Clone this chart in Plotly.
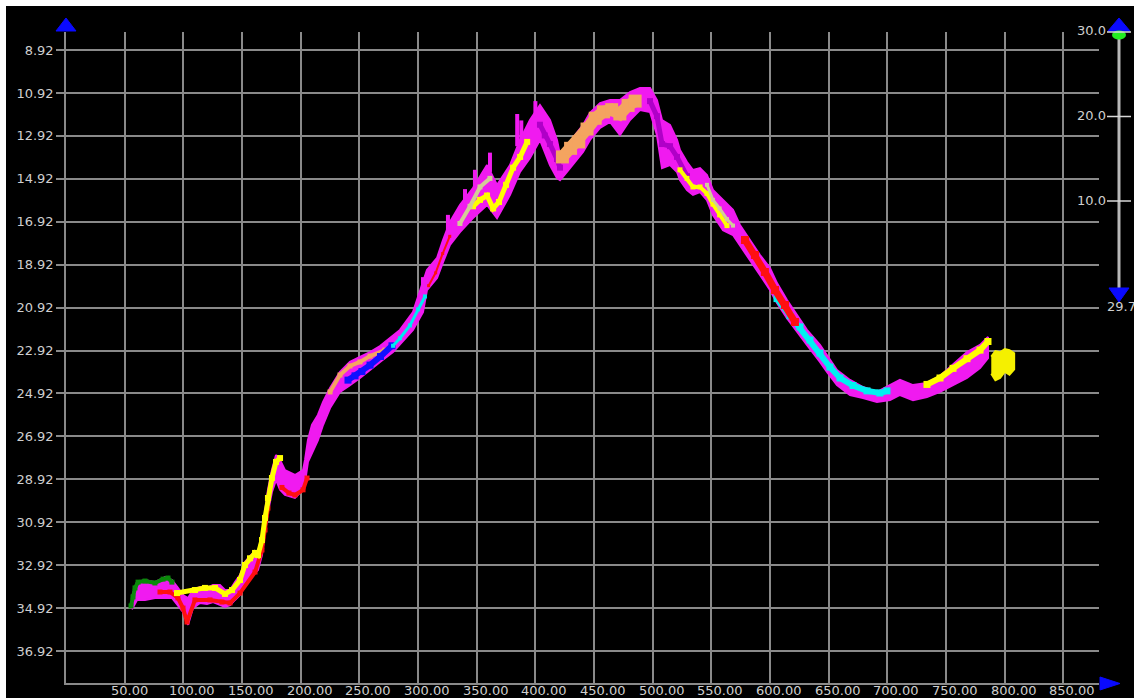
import plotly.graph_objects as go

# ---- well path envelope: offset along section (m), shallow / deep bound (m) ----
offset = [56.2, 60.5, 67.3, 75.8, 84.4, 90.3, 95.4, 99.7, 104.0, 108.2,
          114.2, 120.2, 125.3, 131.2, 135.5, 139.8, 144.0, 148.3, 152.5, 156.8,
          161.1, 163.6, 167.0, 169.6, 172.1, 175.5, 179.0, 182.4, 186.6, 195.1,
          202.0, 203.7, 206.2, 209.6, 214.7, 219.0, 225.0, 233.5, 242.0, 250.5,
          259.1, 267.6, 278.7, 284.6, 295.7, 304.2, 307.6, 316.2, 321.3, 327.2,
          335.7, 346.8, 358.8, 367.3, 378.4, 386.9, 395.4, 403.9, 412.4, 418.4,
          421.0, 426.9, 432.0, 440.6, 446.5, 455.1, 463.6, 472.1, 480.6, 489.1,
          497.7, 503.6, 507.9, 514.7, 520.7, 523.2, 529.2, 534.3, 540.3, 546.2,
          551.3, 559.9, 568.4, 574.3, 582.9, 591.4, 599.9, 605.9, 614.4, 622.9,
          631.4, 642.5, 648.5, 657.0, 668.1, 679.2, 691.1, 702.2, 710.7, 721.8,
          733.7, 744.8, 755.9, 767.8, 778.9, 785.7]
shallow = [34.40, 33.71, 33.61, 33.71, 33.48, 33.61, 33.98, 34.31, 34.45, 34.08,
           33.94, 33.98, 33.84, 33.84, 34.08, 34.08, 33.71, 33.38, 32.77, 32.49,
           32.31, 32.31, 31.51, 30.35, 29.41, 28.49, 27.79, 28.02, 28.49, 28.72,
           28.49, 28.02, 27.09, 26.39, 25.92, 25.32, 24.67, 23.92, 23.45, 23.22,
           22.99, 22.71, 22.20, 21.96, 21.13, 19.73, 19.17, 18.61, 17.77, 16.93,
           16.14, 15.35, 14.28, 15.21, 14.28, 13.11, 12.18, 11.48, 12.18, 13.11,
           13.81, 13.49, 13.02, 12.41, 11.85, 11.39, 11.25, 11.25, 10.88, 10.69,
           10.69, 11.25, 12.18, 12.41, 13.11, 13.58, 14.14, 14.51, 14.42, 14.74,
           15.44, 15.91, 16.37, 17.07, 17.77, 18.47, 19.08, 19.78, 20.57, 21.27,
           21.96, 22.66, 23.13, 23.83, 24.29, 24.62, 24.85, 24.53, 24.29, 24.53,
           24.43, 24.11, 23.59, 22.99, 22.66, 22.29]
deep = [34.98, 34.54, 34.54, 34.45, 34.45, 34.45, 34.78, 35.10, 35.70, 34.92,
        34.68, 34.73, 34.64, 34.78, 34.87, 34.78, 34.54, 34.31, 33.84, 33.52,
        33.29, 33.15, 32.45, 31.37, 30.45, 29.51, 28.95, 29.41, 29.65, 29.79,
        29.41, 29.05, 28.11, 27.69, 27.09, 26.39, 25.60, 24.85, 24.53, 24.20,
        23.83, 23.45, 22.99, 22.66, 21.96, 21.13, 20.10, 19.54, 18.80, 18.00,
        17.40, 16.75, 16.14, 16.75, 15.67, 14.60, 13.95, 13.11, 14.28, 14.88,
        14.98, 14.60, 14.28, 13.67, 13.11, 12.55, 12.27, 12.88, 12.18, 11.72,
        11.81, 12.88, 14.42, 14.28, 14.60, 14.98, 15.44, 15.67, 15.54, 15.91,
        16.61, 17.31, 17.54, 18.00, 18.70, 19.40, 20.10, 20.71, 21.41, 22.06,
        22.66, 23.45, 23.92, 24.53, 24.99, 25.13, 25.32, 25.23, 24.99, 25.23,
        25.09, 24.85, 24.53, 24.20, 23.73, 23.27]

# final cluster past the end of the main path
tail_x = [788.5, 792.0, 796.0, 800.0, 804.0, 808.0]
tail_top = [23.20, 22.95, 23.00, 22.85, 22.90, 23.05]
tail_bot = [24.00, 24.30, 24.20, 23.90, 24.05, 23.80]

# short isolated excursions above the main path (offset, upper depth, lower depth)
spike_x = [304.2, 325.5, 340.0, 348.5, 361.3, 384.5, 388.0, 400.0]
spike_top = [19.5, 16.6, 15.4, 14.5, 13.7, 11.9, 12.2, 11.3]
spike_base = [20.4, 17.3, 16.3, 15.5, 14.6, 13.4, 13.2, 12.0]

# ---- coloured sample streaks (offset, depth) ----
green_x = [55.4, 57.1, 58.8, 61.4, 67.3, 75.8, 82.7, 86.9, 90.3]
green_d = [34.82, 34.40, 33.98, 33.71, 33.66, 33.75, 33.57, 33.52, 33.71]

red_x = [80.1, 88.6, 95.4, 99.7, 103.1, 109.9, 122.7, 132.9, 139.8, 148.3,
         161.1, 167.0, 169.6, 172.1, None, 184.0, 190.0, 195.1, 202.0, 205.4]
red_d = [34.17, 34.17, 34.45, 34.92, 35.57, 34.54, 34.54, 34.64, 34.68, 34.22,
         33.24, 32.21, 31.28, 30.26, None, 29.30, 29.56, 29.65, 29.41, 28.86]
red_mid_x = [309.0, 315.0, 321.0, 327.0]
red_mid_d = [19.9, 19.3, 18.4, 17.6]
red_low_x = [578.6, 587.1, 595.6, 604.2, 612.7, 621.2]
red_low_d = [17.77, 18.47, 19.26, 20.10, 20.80, 21.59]

yellow1_x = [94.6, 109.9, 118.4, 127.0, 135.5, 141.5, 148.3, 152.5, 156.8, 161.1,
             163.6, 167.0, 169.6, 172.1, 175.5, 179.0, 182.4]
yellow1_d = [34.22, 34.08, 33.98, 33.98, 34.26, 34.08, 33.61, 32.91, 32.60, 32.35,
             32.45, 31.75, 30.72, 29.79, 28.86, 28.11, 27.93]
yellow2_x = [346.8, 352.8, 358.8, 364.0, 369.0, 375.0, 381.0, 387.0, 393.0]
yellow2_d = [16.2, 15.9, 15.7, 16.3, 16.0, 15.2, 14.4, 13.9, 13.2]
yellow3_x = [523.2, 529.2, 534.3, 540.3, 546.2, 551.3, 557.0, 563.3]
yellow3_d = [14.5, 14.9, 15.3, 15.3, 15.6, 16.1, 16.6, 17.1]
yellow4_x = [733.7, 744.8, 755.9, 767.8, 778.9, 785.7]
yellow4_d = [24.5, 24.2, 23.75, 23.3, 22.9, 22.5]

orange1_x = [225.0, 233.5, 242.0, 250.5, 259.1, 271.8]
orange1_d = [24.85, 24.06, 23.64, 23.45, 23.18, 22.90]
orange2_x = [423.0, 430.0, 437.0, 444.0, 451.0, 458.0, 465.0, 472.0, 479.0, 485.0]
orange2_d = [13.9, 13.5, 13.2, 12.6, 12.1, 11.8, 11.7, 11.9, 11.5, 11.3]

blue_x = [240.3, 246.3, 252.2, 259.1, 268.0, 277.8]
blue_d = [24.3, 24.1, 23.9, 23.6, 23.2, 22.7]

cyan1_x = [278.7, 284.6, 293.1, 300.0, 305.9]
cyan1_d = [22.7, 22.35, 21.75, 21.0, 20.4]
cyan2_x = [605.9, 617.0, 625.5, 634.0, 642.5, 651.0, 659.6, 670.6, 682.6, 693.6, 699.6]
cyan2_d = [20.5, 21.3, 21.82, 22.43, 23.04, 23.69, 24.2, 24.55, 24.8, 24.9, 24.8]

khaki1_x = [335.7, 344.3, 352.8, 361.3]
khaki1_d = [17.0, 16.2, 15.3, 14.9]
khaki2_x = [546.2, 551.3, 557.0, 563.3, 568.4]
khaki2_d = [15.2, 15.9, 16.3, 16.8, 17.1]

purple1_x = [403.9, 408.0, 412.4, 418.4, 421.0]
purple1_d = [12.4, 12.9, 13.3, 14.0, 14.4]
purple2_x = [497.7, 503.6, 507.9, 514.7, 520.7, 529.2]
purple2_d = [11.3, 12.0, 13.3, 13.4, 13.9, 14.8]

# ---- axes ----
x_ticks = [50, 100, 150, 200, 250, 300, 350, 400, 450, 500, 550, 600, 650, 700, 750, 800, 850]
y_ticks = [8.92, 10.92, 12.92, 14.92, 16.92, 18.92, 20.92, 22.92, 24.92, 26.92,
           28.92, 30.92, 32.92, 34.92, 36.92]
x_range = [0, 880.3]
y_range = [38.41, 8.08]

# scale bar on the right
scale_ticks = [30.0, 20.0, 10.0]
scale_low_text = "29.7"

GRID = "#8a8a8a"
LABEL = "#cfcfcf"
MAGENTA = "#f01af0"
FONT = dict(family="DejaVu Sans", size=13, color=LABEL)

fig = go.Figure()


def band(xs, top, bot, color):
    fig.add_trace(go.Scatter(
        x=list(xs) + list(xs)[::-1], y=list(top) + list(bot)[::-1],
        mode="lines", fill="toself", fillcolor=color,
        line=dict(color=color, width=2), hoverinfo="skip"))


def streak(xs, ds, color, width=4):
    fig.add_trace(go.Scatter(
        x=xs, y=ds, mode="lines+markers", connectgaps=False,
        line=dict(color=color, width=width),
        marker=dict(symbol="square", size=width + 1, color=color),
        hoverinfo="skip"))


def spikes(xs, tops, bases, color, width=3):
    sx, sy = [], []
    for x, t, b in zip(xs, tops, bases):
        sx += [x, x, None]
        sy += [b, t, None]
    fig.add_trace(go.Scatter(x=sx, y=sy, mode="lines", connectgaps=False,
                             line=dict(color=color, width=width), hoverinfo="skip"))


band(offset, shallow, deep, MAGENTA)
band(tail_x, tail_top, tail_bot, "#f5f000")
spikes(spike_x, spike_top, spike_base, MAGENTA, 4)

streak(green_x, green_d, "#0a8a0a", 4)
streak(purple1_x, purple1_d, "#b000c8", 5)
streak(purple2_x, purple2_d, "#b000c8", 5)
streak(orange1_x, orange1_d, "#f4a460", 4)
streak(orange2_x, orange2_d, "#f4a460", 12)
streak(blue_x, blue_d, "#1010ff", 6)
streak(cyan1_x, cyan1_d, "#00e8f0", 3)
streak(cyan2_x, cyan2_d, "#00f0f0", 6)
streak(red_x, red_d, "#ff1010", 4)
streak(red_mid_x, red_mid_d, "#ff1010", 2)
streak(red_low_x, red_low_d, "#ff1010", 7)
streak(yellow1_x, yellow1_d, "#ffff00", 5)
streak(yellow2_x, yellow2_d, "#ffff00", 5)
streak(yellow3_x, yellow3_d, "#ffff00", 4)
streak(yellow4_x, yellow4_d, "#ffff00", 6)
streak(khaki1_x, khaki1_d, "#d2cc98", 4)
streak(khaki2_x, khaki2_d, "#d2cc98", 3)

# plot-area geometry in pixels, used to place the decorations outside the axes
L, R, T, B = 66, 1099, 32, 683


def px(x):
    return (x - L) / (R - L)


def py(y):
    return (B - y) / (B - T)


def tri(points, color):
    path = "M " + " L ".join(f"{px(a):.5f},{py(b):.5f}" for a, b in points) + " Z"
    return dict(type="path", xref="paper", yref="paper", path=path,
                fillcolor=color, line=dict(color=color, width=1), layer="above")


def scale_y(v):
    # scale bar: 30 at the top, 8.45 px per unit
    return T + (30.0 - v) * 8.45


shapes = [
    dict(type="rect", xref="paper", yref="paper", x0=px(0), x1=px(1134), y0=py(6), y1=py(-2),
         fillcolor="white", line=dict(width=0)),
    dict(type="rect", xref="paper", yref="paper", x0=px(-2), x1=px(6), y0=py(700), y1=py(-2),
         fillcolor="white", line=dict(width=0)),
    dict(type="line", xref="paper", yref="paper", x0=px(1119), x1=px(1119),
         y0=py(T), y1=py(290), line=dict(color="#b8b8b8", width=3)),
    tri([(56, 31), (76, 31), (66, 18)], "#0a0aff"),
    tri([(1100, 677), (1100, 690), (1120, 683.5)], "#0a0aff"),
    tri([(1108, 31), (1130, 31), (1119, 18)], "#0a0aff"),
    tri([(1109, 288), (1129, 288), (1119, 302)], "#0a0aff"),
    dict(type="circle", xref="paper", yref="paper", x0=px(1112), x1=px(1126),
         y0=py(39.5), y1=py(30.5), fillcolor="#22ee22", line=dict(width=0), layer="above"),
]
annotations = []
for v in scale_ticks:
    yy = scale_y(v)
    shapes.append(dict(type="line", xref="paper", yref="paper", x0=px(1107), x1=px(1131),
                       y0=py(yy), y1=py(yy), line=dict(color="#d8d8d8", width=1.5)))
    annotations.append(dict(xref="paper", yref="paper", x=px(1106), y=py(yy - 1),
                            xanchor="right", yanchor="middle", text=f"{v:.1f}",
                            showarrow=False, font=FONT, borderpad=0, borderwidth=0))
annotations.append(dict(xref="paper", yref="paper", x=px(1107), y=py(306),
                        xanchor="left", yanchor="middle", text=scale_low_text,
                        showarrow=False, font=FONT, borderpad=0, borderwidth=0))

# x tick labels sit just right of their grid line
for v in x_ticks:
    annotations.append(dict(xref="x", yref="paper", x=v, y=py(690), xanchor="left",
                            yanchor="middle", xshift=-14, text=f"{v:.2f}", showarrow=False,
                            font=FONT, borderpad=0, borderwidth=0))

fig.update_layout(
    width=1134, height=698,
    margin=dict(l=L, r=1134 - R, t=T, b=698 - B),
    paper_bgcolor="black", plot_bgcolor="black",
    showlegend=False,
    xaxis=dict(range=x_range, tickvals=x_ticks, showticklabels=False, ticks="",
               showgrid=True, gridcolor=GRID, gridwidth=1.5, zeroline=False,
               showline=True, linecolor=GRID, linewidth=1.5),
    yaxis=dict(range=y_range, tickvals=y_ticks, ticktext=[f"{v:.2f}" for v in y_ticks],
               ticks="outside", ticklen=8, tickcolor=GRID, tickwidth=1.5,
               showgrid=True, gridcolor=GRID, gridwidth=1.5, zeroline=False,
               showline=True, linecolor=GRID, linewidth=1.5, tickfont=FONT),
    shapes=shapes,
    annotations=annotations,
)

fig.write_html("out.html")
